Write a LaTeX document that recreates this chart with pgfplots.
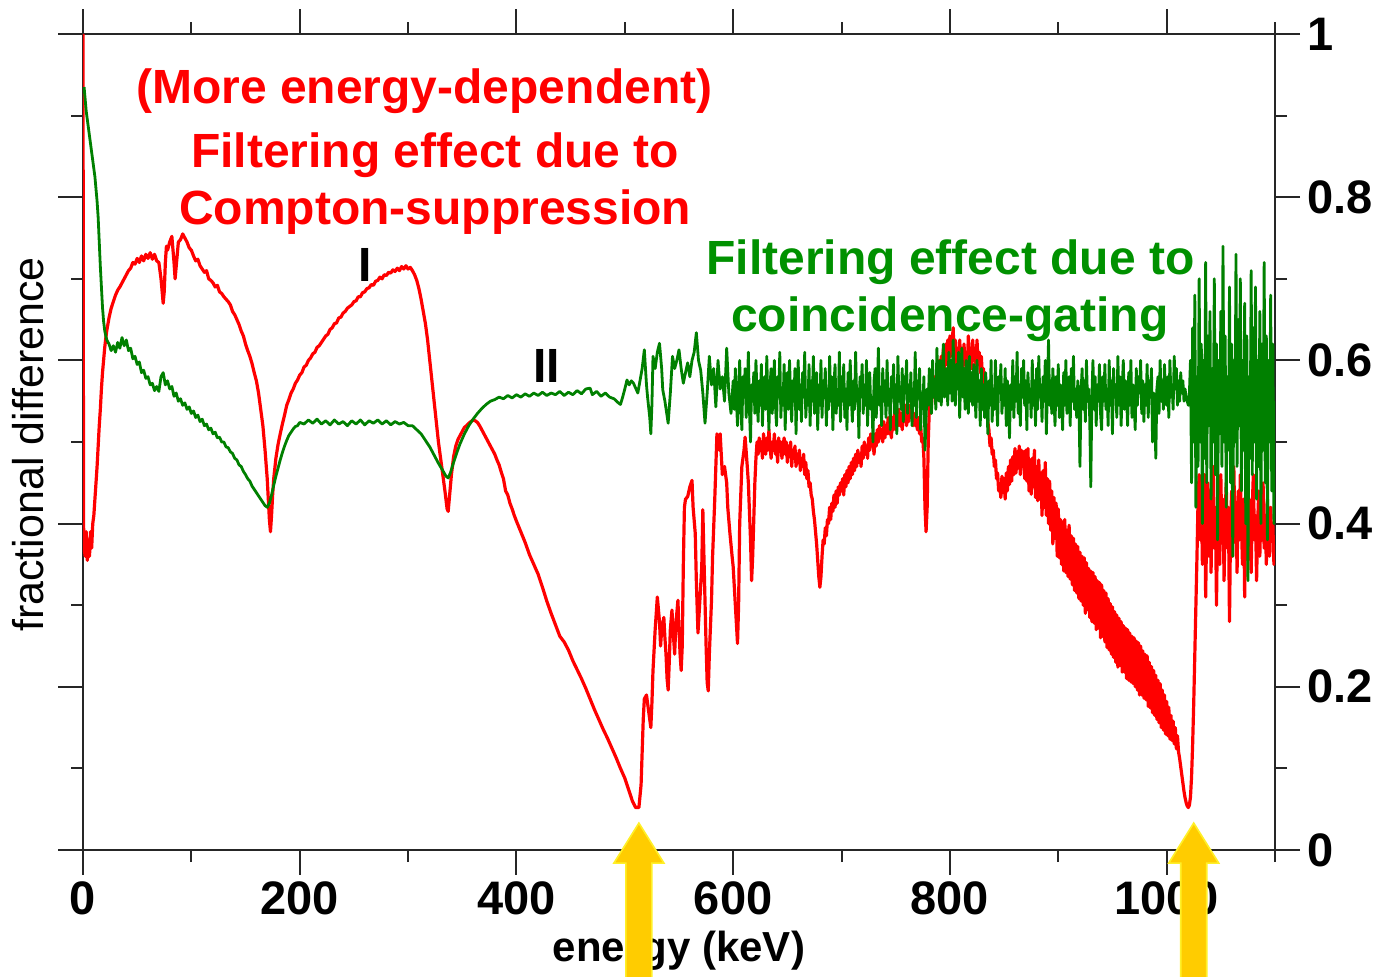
\documentclass[border=0pt]{standalone}
\usepackage{pgfplots}
\pgfplotsset{compat=1.18}
\usepackage{fontspec}
\setmainfont{Liberation Sans}
\definecolor{cred}{RGB}{255,0,0}
\definecolor{cgreen}{RGB}{0,128,0}
\definecolor{tgreen}{RGB}{0,145,0}
\definecolor{arrowfill}{RGB}{255,204,0}
\definecolor{arrowedge}{RGB}{255,240,40}
\begin{document}
\begin{tikzpicture}
\path[use as bounding box] (-41.5pt,-63pt) rectangle (650pt,425pt);
\begin{axis}[
  scale only axis, width=596pt, height=408pt,
  xmin=0, xmax=1100, ymin=0, ymax=1,
  clip mode=individual,
  axis line style={line width=1pt, black!85},
  tick style={line width=1pt, black!85},
  tick align=outside,
  major tick length=12.5pt, minor tick length=6pt,
  xtick={0,200,400,600,800,1000}, minor xtick={100,300,500,700,900,1100},
  ytick={0,0.2,0.4,0.6,0.8,1}, minor ytick={0.1,0.3,0.5,0.7,0.9},
  xtick pos=both, xticklabel pos=lower,
  ytick pos=both, yticklabel pos=right,
  scaled x ticks=false, scaled y ticks=false,
  /pgf/number format/1000 sep={},
  /pgf/number format/assume math mode=true,
  tick label style={font=\bfseries\fontsize{23.5}{24}\selectfont},
]
% red: Compton-suppression
\addplot[cred, line width=1.6pt, line join=round] coordinates {
(0,1.0)(0.5,0.40)(1,0.37)(2,0.36)(3,0.39)(4,0.355)(5,0.38)(6,0.36)(7,0.39)(8,0.37)(9,0.40)
(10,0.41)(11,0.43)(12,0.45)(13,0.47)(14,0.495)(15,0.52)(16,0.54)(17,0.565)(18,0.585)(19,0.60)
(20,0.615)(21,0.627)(22,0.637)(24,0.652)(26,0.664)(28,0.672)(30,0.68)(32,0.686)(34,0.69)(36,0.695)
(38,0.70)(40,0.705)(42,0.71)(44,0.713)(46,0.72)(48,0.718)(50,0.725)(52,0.72)(54,0.728)(56,0.722)
(58,0.73)(60,0.725)(62,0.732)(64,0.724)(66,0.73)(68,0.722)(70,0.72)(72,0.70)(74,0.67)(75,0.685)
(76,0.72)(77,0.74)(78,0.735)(80,0.745)(82,0.752)(84,0.72)(85,0.70)(86,0.715)(88,0.745)(90,0.748)
(92,0.755)(94,0.75)(96,0.745)(98,0.738)(100,0.735)(102,0.728)(104,0.722)(106,0.724)(108,0.716)(110,0.712)
(112,0.708)(114,0.71)(116,0.70)(118,0.698)(120,0.695)(122,0.69)(124,0.692)(126,0.684)(128,0.682)(130,0.678)
(132,0.675)(134,0.672)(136,0.668)(138,0.66)(140,0.656)(142,0.65)(144,0.644)(146,0.636)(148,0.63)(150,0.62)
(152,0.612)(154,0.605)(156,0.596)(158,0.585)(160,0.575)(162,0.56)(164,0.54)(166,0.52)(168,0.49)(170,0.455)
(171,0.43)(172,0.405)(173,0.39)(174,0.41)(175,0.435)(176,0.455)(178,0.48)(180,0.497)(182,0.51)(184,0.522)
(186,0.533)(188,0.545)(190,0.552)(192,0.56)(194,0.565)(196,0.572)(198,0.576)(200,0.582)(202,0.585)(204,0.592)
(206,0.594)(208,0.6)(210,0.603)(212,0.608)(214,0.61)(216,0.616)(218,0.618)(220,0.622)(222,0.626)(224,0.63)
(226,0.632)(228,0.638)(230,0.64)(232,0.645)(234,0.646)(236,0.652)(238,0.653)(240,0.658)(242,0.66)(244,0.664)
(246,0.666)(248,0.668)(250,0.672)(252,0.673)(254,0.678)(256,0.678)(258,0.683)(260,0.684)(262,0.688)(264,0.689)
(266,0.693)(268,0.692)(270,0.697)(272,0.698)(274,0.702)(276,0.70)(278,0.705)(280,0.704)(282,0.708)(284,0.707)
(286,0.711)(288,0.709)(290,0.713)(292,0.71)(294,0.715)(296,0.712)(298,0.716)(300,0.712)(302,0.714)(304,0.71)
(306,0.705)(308,0.698)(310,0.688)(312,0.675)(314,0.66)(316,0.645)(318,0.625)(320,0.6)(322,0.575)(324,0.55)
(326,0.525)(328,0.5)(330,0.48)(332,0.46)(334,0.44)(336,0.418)(337,0.415)(338,0.43)(340,0.46)(342,0.482)
(344,0.495)(346,0.503)(348,0.508)(350,0.513)(352,0.518)(354,0.52)(356,0.523)(358,0.525)(360,0.527)(362,0.526)
(364,0.524)(366,0.52)(368,0.515)(370,0.51)(372,0.505)(374,0.5)(376,0.495)(378,0.49)(380,0.485)(382,0.478)
(384,0.472)(386,0.463)(388,0.455)(390,0.44)(392,0.435)(394,0.425)(396,0.418)(398,0.41)(400,0.403)(404,0.39)
(408,0.377)(412,0.362)(416,0.35)(420,0.338)(424,0.322)(428,0.305)(432,0.29)(436,0.276)(440,0.262)(444,0.255)
(448,0.245)(452,0.232)(456,0.221)(460,0.21)(464,0.198)(468,0.185)(472,0.172)(476,0.16)(480,0.148)(484,0.137)
(488,0.125)(492,0.113)(496,0.1)(500,0.088)(504,0.072)(507,0.06)(510,0.052)(513,0.052)(515,0.08)(516,0.12)
(517,0.16)(518,0.185)(520,0.19)(521,0.18)(522,0.17)(524,0.15)(525,0.18)(526,0.22)(528,0.27)(530,0.31)
(532,0.28)(533,0.25)(534,0.27)(536,0.285)(537,0.26)(538,0.24)(539,0.21)(540,0.196)(541,0.23)(542,0.27)
(543.5,0.294)(545,0.26)(546,0.24)(547,0.275)(549,0.306)(550,0.27)(551,0.24)(552,0.22)(553,0.25)(554,0.35)
(555,0.42)(556,0.43)(558,0.433)(560,0.445)(562,0.453)(563,0.42)(565,0.388)(566,0.33)(567.5,0.266)(569,0.3)
(571,0.347)(572,0.417)(573,0.36)(575,0.25)(576,0.205)(577,0.195)(578,0.24)(580,0.306)(581,0.36)(583,0.43)
(585,0.51)(587,0.49)(588,0.51)(590,0.46)(592,0.47)(594,0.45)(595,0.42)(597,0.388)(599,0.36)(600,0.347)
(602,0.3)(604,0.253)(605,0.3)(606,0.4)(608,0.47)(610,0.49)(611,0.506)(613,0.47)(614,0.45)(616,0.38)
(617,0.33)(618,0.36)
(620,0.45)(621,0.48)(622,0.5)(623,0.485)(624,0.505)(625,0.49)(626,0.5)(627,0.48)(628,0.51)(629,0.495)
(630,0.485)(631,0.505)(632,0.49)(633,0.515)(634,0.495)(635,0.48)(636,0.5)(637,0.49)(638,0.51)(639,0.485)
(640,0.5)(641,0.475)(642,0.505)(643,0.49)(644,0.5)(645,0.48)(646,0.495)(647,0.505)(648,0.485)(649,0.5)
(650,0.475)(651,0.495)(652,0.485)(653,0.5)(654,0.47)(655,0.49)(656,0.48)(657,0.495)(658,0.47)(659,0.485)
(660,0.475)(661,0.49)(662,0.465)(663,0.48)(664,0.47)(665,0.485)(666,0.46)(667,0.475)(668,0.455)(669,0.465)
(670,0.445)(671,0.45)(672,0.435)(673,0.43)(674,0.415)(675,0.405)(676,0.39)(677,0.375)(678,0.355)(679,0.335)
(680,0.322)(681,0.335)(682,0.36)(683,0.38)(684,0.375)(685,0.395)(686,0.385)(687,0.405)(688,0.4)(689,0.42)
(690,0.405)(691,0.425)(692,0.415)(693,0.435)(694,0.42)(695,0.44)(696,0.425)(697,0.445)(698,0.435)(699,0.45)
(700,0.44)(701,0.455)(702,0.435)(703,0.46)(704,0.445)(705,0.465)(706,0.45)(707,0.47)(708,0.455)(709,0.475)
(710,0.46)(711,0.48)(712,0.465)(713,0.485)(714,0.47)(715,0.49)(716,0.475)(717,0.485)(718,0.47)(719,0.495)
(720,0.48)(721,0.5)(722,0.485)(723,0.495)(724,0.48)(725,0.505)(726,0.49)(727,0.51)(728,0.495)(729,0.5)
(730,0.485)(731,0.51)(732,0.495)(733,0.515)(734,0.5)(735,0.52)(736,0.505)(737,0.515)(738,0.5)(739,0.525)
(740,0.505)(741,0.52)(742,0.51)(743,0.53)(744,0.51)(745,0.525)(746,0.505)(747,0.53)(748,0.515)(749,0.535)
(750,0.515)(751,0.53)(752,0.52)(753,0.54)(754,0.52)(755,0.535)(756,0.515)(757,0.54)(758,0.525)(759,0.545)
(760,0.52)(761,0.54)(762,0.525)(763,0.545)(764,0.53)(765,0.54)(766,0.52)(767,0.535)(768,0.52)(769,0.53)
(770,0.515)(771,0.53)(772,0.51)(773,0.52)(774,0.5)(775,0.505)(776,0.48)(777,0.42)(778,0.39)(779,0.42)
(780,0.5)(781,0.54)(782,0.555)(783,0.545)(784,0.57)(785,0.555)(786,0.58)(787,0.565)(788,0.59)(789,0.57)
(790,0.6)(791,0.58)(792,0.605)(793,0.585)(794,0.615)(795,0.59)(796,0.62)(797,0.595)(798,0.625)(799,0.6)
(800,0.63)(801,0.605)(802,0.62)(803,0.64)(804,0.6)(805,0.625)(806,0.595)(807,0.615)(808,0.59)(809,0.625)
(810,0.6)(811,0.615)(812,0.59)(813,0.62)(814,0.595)(815,0.61)(816,0.585)(817,0.63)(818,0.6)(819,0.615)
(820,0.59)(821,0.625)(822,0.6)(823,0.615)(824,0.59)(825,0.625)(826,0.595)(827,0.61)(828,0.585)(829,0.605)
(830,0.58)(831,0.59)(832,0.565)(833,0.55)(834,0.535)(835,0.525)
(836,0.515)(837,0.495)(838,0.505)(839,0.485)(840,0.49)(841,0.47)(842,0.478)(843,0.455)(844,0.462)(845,0.44)
(846,0.448)(847,0.432)(848,0.458)(849,0.438)(850,0.455)(851,0.43)(852,0.462)(853,0.44)(854,0.47)(855,0.448)
(856,0.478)(857,0.452)(858,0.482)(859,0.46)(860,0.492)(861,0.462)(862,0.488)(863,0.468)(864,0.495)(865,0.46)
(866,0.49)(867,0.47)(868,0.488)(869,0.455)
(870,0.49)(871,0.452)(872,0.492)(873,0.44)(874,0.478)(875,0.436)(876,0.48)(877,0.445)(878,0.49)(879,0.432)
(880,0.47)(881,0.428)(882,0.478)(883,0.43)(884,0.462)(885,0.41)(886,0.465)(887,0.42)(888,0.475)(889,0.41)
(890,0.455)(891,0.4)(892,0.452)(893,0.392)(894,0.44)(895,0.375)(896,0.432)(897,0.382)(898,0.425)(899,0.36)
(900,0.418)(901,0.358)(902,0.405)(903,0.35)(904,0.402)(905,0.342)(906,0.405)(907,0.34)(908,0.392)(909,0.335)
(910,0.398)(911,0.332)(912,0.385)(913,0.325)(914,0.382)(915,0.318)(916,0.375)(917,0.315)(918,0.372)(919,0.308)
(920,0.365)(921,0.305)(922,0.36)(923,0.3)(924,0.358)(925,0.29)(926,0.352)(927,0.295)(928,0.345)(929,0.285)
(930,0.342)(931,0.28)(932,0.34)(933,0.278)(934,0.335)(935,0.27)(936,0.33)(937,0.272)(938,0.328)(939,0.26)
(940,0.325)(941,0.262)(942,0.318)(943,0.255)(944,0.315)(945,0.248)(946,0.308)(947,0.245)(948,0.302)(949,0.24)
(950,0.298)(951,0.236)(952,0.292)(953,0.23)(954,0.288)(955,0.224)(956,0.284)(957,0.226)(958,0.28)(959,0.218)
(960,0.275)(961,0.218)(962,0.272)(963,0.21)(964,0.27)(965,0.208)(966,0.266)(967,0.206)(968,0.262)(969,0.204)
(970,0.26)(971,0.2)(972,0.256)(973,0.196)(974,0.254)(975,0.19)(976,0.25)(977,0.19)(978,0.244)(979,0.186)
(980,0.24)(981,0.184)(982,0.238)(983,0.176)(984,0.23)(985,0.174)(986,0.225)(987,0.168)(988,0.22)(989,0.165)
(990,0.214)(991,0.16)(992,0.208)(993,0.156)(994,0.204)(995,0.15)(996,0.196)(997,0.147)(998,0.19)(999,0.142)
(1000,0.182)(1001,0.14)(1002,0.175)(1003,0.136)(1004,0.165)(1005,0.134)(1006,0.158)(1007,0.13)(1008,0.15)(1009,0.124)
(1010,0.14)(1011,0.12)(1012,0.112)(1013,0.102)(1014,0.092)(1015,0.082)(1016,0.072)(1017,0.064)(1018,0.058)(1019,0.054)
(1020,0.052)(1021,0.055)(1022,0.065)(1023,0.09)(1024,0.13)(1025,0.18)(1026,0.24)(1027,0.3)(1028,0.36)(1029,0.43)
(1030,0.46)(1031,0.38)(1032,0.44)(1033,0.35)(1034,0.42)(1035,0.46)(1036,0.31)(1037,0.4)(1038,0.45)(1039,0.36)
(1040,0.44)(1041,0.34)(1042,0.43)(1043,0.47)(1044,0.37)(1045,0.42)(1046,0.3)(1047,0.41)(1048,0.44)(1049,0.35)
(1050,0.46)(1051,0.38)(1052,0.43)(1053,0.33)(1054,0.41)(1055,0.45)(1056,0.37)(1057,0.42)(1058,0.28)(1059,0.4)
(1060,0.44)(1061,0.36)(1062,0.47)(1063,0.39)(1064,0.42)(1065,0.34)(1066,0.44)(1067,0.38)(1068,0.46)(1069,0.4)
(1070,0.35)(1071,0.43)(1072,0.31)(1073,0.41)(1074,0.45)(1075,0.37)(1076,0.43)(1077,0.39)(1078,0.34)(1079,0.42)
(1080,0.46)(1081,0.38)(1082,0.41)(1083,0.33)(1084,0.4)(1085,0.44)(1086,0.36)(1087,0.42)(1088,0.38)(1089,0.45)
(1090,0.37)(1091,0.41)(1092,0.35)(1093,0.43)(1094,0.39)(1095,0.36)(1096,0.42)(1097,0.38)(1098,0.4)(1099,0.35)
(1100,0.37)
};
% green: coincidence-gating
\addplot[cgreen, line width=1.4pt, line join=round] coordinates {
(1,0.935)(2,0.92)(3,0.905)(4,0.895)(5,0.885)(6,0.875)(7,0.865)(8,0.855)(9,0.845)(10,0.835)
(11,0.825)(12,0.81)(13,0.795)(14,0.775)(15,0.745)(16,0.715)(17,0.69)(18,0.665)(19,0.648)(20,0.637)
(21,0.63)(22,0.625)(24,0.62)(26,0.612)(28,0.618)(30,0.61)(32,0.622)(34,0.615)(36,0.628)(38,0.618)
(40,0.625)(42,0.612)(44,0.615)(46,0.602)(48,0.605)(50,0.595)(52,0.598)(54,0.585)(56,0.588)(58,0.578)
(60,0.58)(62,0.57)(64,0.572)(66,0.563)(68,0.568)(70,0.562)(72,0.58)(74,0.585)(76,0.57)(78,0.575)
(80,0.565)(82,0.568)(84,0.556)(86,0.56)(88,0.55)(90,0.553)(92,0.545)(94,0.548)(96,0.54)(98,0.543)
(100,0.535)(102,0.538)(104,0.53)(106,0.533)(108,0.525)(110,0.528)(112,0.52)(114,0.522)(116,0.515)(118,0.517)
(120,0.51)(122,0.512)(124,0.505)(126,0.506)(128,0.5)(130,0.5)(132,0.494)(134,0.493)(136,0.488)(138,0.486)
(140,0.48)(142,0.478)(144,0.472)(146,0.47)(148,0.464)(150,0.46)(152,0.455)(154,0.452)(156,0.446)(158,0.442)
(160,0.438)(162,0.434)(164,0.43)(166,0.426)(168,0.422)(170,0.42)(172,0.425)(174,0.435)(176,0.447)(178,0.458)
(180,0.468)(182,0.478)(184,0.487)(186,0.495)(188,0.502)(190,0.508)(192,0.512)(194,0.516)(196,0.519)(198,0.52)
(200,0.524)(204,0.522)(208,0.527)(212,0.523)(216,0.528)(220,0.522)(224,0.526)(228,0.521)(232,0.527)(236,0.522)
(240,0.525)(244,0.52)(248,0.526)(252,0.522)(256,0.527)(260,0.521)(264,0.526)(268,0.523)(272,0.527)(276,0.522)
(280,0.526)(284,0.521)(288,0.525)(292,0.522)(296,0.524)(300,0.52)(304,0.52)(308,0.515)(312,0.51)(316,0.502)
(320,0.494)(324,0.484)(328,0.474)(332,0.465)(335,0.458)(337,0.456)(339,0.462)(342,0.475)(345,0.487)(348,0.498)
(352,0.51)(356,0.52)(360,0.528)(364,0.535)(368,0.541)(372,0.546)(376,0.55)(380,0.552)(384,0.555)(388,0.553)
(392,0.557)(396,0.554)(400,0.558)(404,0.555)(408,0.559)(412,0.556)(416,0.56)(420,0.557)(424,0.561)(428,0.557)
(432,0.56)(436,0.558)(440,0.562)(444,0.557)(448,0.561)(452,0.558)(456,0.563)(460,0.559)(464,0.565)(468,0.566)
(470,0.558)(474,0.562)(478,0.556)(482,0.56)(486,0.555)(490,0.553)(494,0.548)(496,0.546)(498,0.555)(500,0.565)
(502,0.576)(504,0.57)(506,0.575)(508,0.572)(510,0.566)(512,0.56)(514,0.575)(516,0.59)(518,0.613)(520,0.57)
(521,0.555)(523,0.53)(524,0.51)(525,0.545)(526,0.605)(528,0.59)(530,0.61)(532,0.621)(534,0.59)(535,0.564)
(537,0.55)(540,0.523)(542,0.56)(544,0.605)(546,0.59)(548,0.6)(550,0.613)(552,0.59)(554,0.572)(556,0.585)
(558,0.597)(560,0.58)(562,0.6)(564,0.61)(566,0.634)(568,0.6)(570,0.588)(572,0.56)(574,0.523)(576,0.56)
(578,0.605)(580,0.57)(582,0.59)(584,0.543)(586,0.6)(588,0.565)(590,0.58)(592,0.55)(594,0.615)(596,0.56)
(598,0.535)
(600,0.575)(601,0.54)(602,0.59)(603,0.55)(604,0.52)(605,0.565)(606,0.6)(607,0.545)(608,0.515)(609,0.58)
(610,0.555)(611,0.59)(612,0.53)(613,0.565)(614,0.61)(615,0.54)(616,0.5)(617,0.57)(618,0.55)(619,0.585)
(620,0.535)(621,0.6)(622,0.56)(623,0.525)(624,0.575)(625,0.545)(626,0.595)(627,0.52)(628,0.565)(629,0.58)
(630,0.54)(631,0.605)(632,0.55)(633,0.515)(634,0.57)(635,0.59)(636,0.535)(637,0.56)(638,0.6)(639,0.545)
(640,0.52)(641,0.58)(642,0.555)(643,0.61)(644,0.53)(645,0.565)(646,0.545)(647,0.595)(648,0.515)(649,0.57)
(650,0.585)(651,0.54)(652,0.6)(653,0.555)(654,0.525)(655,0.575)(656,0.55)(657,0.59)(658,0.51)(659,0.565)
(660,0.6)(661,0.54)(662,0.57)(663,0.525)(664,0.585)(665,0.555)(666,0.61)(667,0.53)(668,0.56)(669,0.545)
(670,0.595)(671,0.52)(672,0.575)(673,0.55)(674,0.605)(675,0.535)(676,0.565)(677,0.585)(678,0.515)(679,0.57)
(680,0.545)(681,0.6)(682,0.53)(683,0.575)(684,0.555)(685,0.59)(686,0.52)(687,0.565)(688,0.54)(689,0.605)
(690,0.55)(691,0.58)(692,0.515)(693,0.57)(694,0.595)(695,0.535)(696,0.56)(697,0.545)(698,0.61)(699,0.525)
(700,0.58)(701,0.55)(702,0.595)(703,0.53)(704,0.565)(705,0.515)(706,0.585)(707,0.545)(708,0.6)(709,0.555)
(710,0.525)(711,0.575)(712,0.54)(713,0.61)(714,0.55)(715,0.565)(716,0.505)(717,0.58)(718,0.56)(719,0.595)
(720,0.535)(721,0.57)(722,0.545)(723,0.6)(724,0.52)(725,0.565)(726,0.585)(727,0.54)(728,0.555)(729,0.5)
(730,0.575)(731,0.59)(732,0.53)(733,0.565)(734,0.615)(735,0.545)(736,0.56)(737,0.52)(738,0.59)(739,0.55)
(740,0.575)(741,0.53)(742,0.6)(743,0.545)(744,0.565)(745,0.515)(746,0.58)(747,0.555)(748,0.595)(749,0.535)
(750,0.57)(751,0.51)(752,0.605)(753,0.55)(754,0.565)(755,0.54)(756,0.59)(757,0.525)(758,0.58)(759,0.56)
(760,0.6)(761,0.535)(762,0.57)(763,0.55)(764,0.585)(765,0.52)(766,0.565)(767,0.545)(768,0.61)(769,0.53)
(770,0.575)(771,0.555)(772,0.59)(773,0.515)(774,0.56)(775,0.545)(776,0.58)(777,0.49)(778,0.53)(779,0.565)
(780,0.545)(781,0.59)(782,0.56)(783,0.535)(784,0.6)(785,0.555)(786,0.575)(787,0.54)(788,0.615)(789,0.565)
(790,0.55)(791,0.6)(792,0.545)(793,0.58)(794,0.62)(795,0.555)(796,0.57)(797,0.59)(798,0.545)(799,0.61)
(800,0.56)(801,0.6)(802,0.55)(803,0.625)(804,0.57)(805,0.545)(806,0.595)(807,0.565)(808,0.61)(809,0.53)
(810,0.58)(811,0.615)(812,0.555)(813,0.59)(814,0.54)(815,0.6)(816,0.565)(817,0.535)(818,0.605)(819,0.55)
(820,0.585)(821,0.545)(822,0.595)(823,0.56)(824,0.53)(825,0.6)(826,0.55)(827,0.575)(828,0.52)(829,0.59)
(830,0.54)(831,0.57)(832,0.53)(833,0.585)(834,0.555)(835,0.51)(836,0.575)(837,0.545)(838,0.6)(839,0.525)
(840,0.565)(841,0.54)(842,0.6)(843,0.55)(844,0.52)(845,0.58)(846,0.56)(847,0.595)(848,0.535)(849,0.57)
(850,0.545)(851,0.59)(852,0.52)(853,0.575)(854,0.555)(855,0.505)(856,0.57)(857,0.54)(858,0.6)(859,0.53)
(860,0.58)(861,0.55)(862,0.61)(863,0.535)(864,0.57)(865,0.52)(866,0.59)(867,0.555)(868,0.6)(869,0.545)
(870,0.575)(871,0.515)(872,0.585)(873,0.55)(874,0.565)(875,0.53)(876,0.6)(877,0.545)(878,0.575)(879,0.52)
(880,0.59)(881,0.54)(882,0.605)(883,0.555)(884,0.57)(885,0.525)(886,0.58)(887,0.55)(888,0.6)(889,0.51)
(890,0.565)(891,0.625)(892,0.545)(893,0.575)(894,0.535)(895,0.59)(896,0.555)(897,0.52)(898,0.58)(899,0.545)
(900,0.595)(901,0.53)(902,0.57)(903,0.555)(904,0.515)(905,0.585)(906,0.545)(907,0.6)(908,0.535)(909,0.565)
(910,0.58)(911,0.52)(912,0.59)(913,0.55)(914,0.605)(915,0.54)(916,0.565)(917,0.53)(918,0.575)(919,0.555)
(920,0.47)(921,0.56)(922,0.59)(923,0.54)(924,0.575)(925,0.525)(926,0.6)(927,0.55)(928,0.565)(929,0.53)
(930,0.445)(931,0.555)(932,0.6)(933,0.54)(934,0.58)(935,0.52)(936,0.57)(937,0.55)(938,0.595)(939,0.535)
(940,0.515)(941,0.58)(942,0.55)(943,0.595)(944,0.54)(945,0.565)(946,0.52)(947,0.6)(948,0.545)(949,0.575)
(950,0.51)(951,0.59)(952,0.555)(953,0.57)(954,0.53)(955,0.605)(956,0.545)(957,0.58)(958,0.52)(959,0.565)
(960,0.6)(961,0.54)(962,0.575)(963,0.555)(964,0.52)(965,0.585)(966,0.545)(967,0.6)(968,0.53)(969,0.57)
(970,0.55)(971,0.515)(972,0.59)(973,0.545)(974,0.58)(975,0.56)(976,0.6)(977,0.535)(978,0.575)(979,0.525)
(980,0.57)(981,0.545)(982,0.595)(983,0.53)(984,0.575)(985,0.555)(986,0.59)(987,0.5)(988,0.56)(989,0.54)
(990,0.48)(991,0.565)(992,0.58)(993,0.535)(994,0.6)(995,0.55)(996,0.575)(997,0.54)(998,0.595)(999,0.56)
(1000,0.545)(1001,0.58)(1002,0.53)(1003,0.6)(1004,0.555)(1005,0.57)(1006,0.54)(1007,0.605)(1008,0.565)(1009,0.59)
(1010,0.545)(1011,0.575)(1012,0.55)(1013,0.585)(1014,0.56)(1015,0.575)(1016,0.55)(1017,0.565)(1018,0.555)(1019,0.55)
(1020,0.545)(1021,0.56)
(1022,0.6)(1023,0.45)(1024,0.64)(1025,0.5)(1026,0.68)(1027,0.42)(1028,0.58)(1029,0.47)(1030,0.7)(1031,0.5)
(1032,0.62)(1033,0.4)(1034,0.6)(1035,0.48)(1036,0.72)(1037,0.45)(1038,0.63)(1039,0.52)(1040,0.66)(1041,0.43)
(1042,0.59)(1043,0.5)(1044,0.7)(1045,0.46)(1046,0.62)(1047,0.38)(1048,0.6)(1049,0.51)(1050,0.66)(1051,0.47)
(1052,0.74)(1053,0.5)(1054,0.63)(1055,0.42)(1056,0.58)(1057,0.49)(1058,0.69)(1059,0.45)(1060,0.62)(1061,0.36)
(1062,0.6)(1063,0.5)(1064,0.73)(1065,0.47)(1066,0.65)(1067,0.52)(1068,0.7)(1069,0.44)(1070,0.6)(1071,0.49)
(1072,0.67)(1073,0.4)(1074,0.63)(1075,0.33)(1076,0.58)(1077,0.48)(1078,0.71)(1079,0.46)(1080,0.64)(1081,0.5)
(1082,0.69)(1083,0.43)(1084,0.6)(1085,0.47)(1086,0.66)(1087,0.4)(1088,0.62)(1089,0.49)(1090,0.72)(1091,0.45)
(1092,0.63)(1093,0.38)(1094,0.6)(1095,0.5)(1096,0.68)(1097,0.44)(1098,0.62)(1099,0.4)(1100,0.55)
};
\node[cred, font=\bfseries\fontsize{24}{24}\selectfont, anchor=base] at (axis cs:315,0.9154) {(More energy-dependent)};
\node[cred, font=\bfseries\fontsize{24}{24}\selectfont, anchor=base] at (axis cs:325,0.836) {Filtering effect due to};
\node[cred, font=\bfseries\fontsize{24}{24}\selectfont, anchor=base] at (axis cs:325,0.766) {Compton-suppression};
\node[tgreen, font=\bfseries\fontsize{24}{24}\selectfont, anchor=base] at (axis cs:800.5,0.705) {Filtering effect due to};
\node[tgreen, font=\bfseries\fontsize{24}{24}\selectfont, anchor=base] at (axis cs:800,0.636) {coincidence-gating};
\node[black, font=\bfseries\fontsize{24}{24}\selectfont, anchor=base] at (axis cs:260,0.697) {I};
\node[black, font=\bfseries\fontsize{24}{24}\selectfont, anchor=base] at (axis cs:428,0.5735) {II};
\node[rotate=90, anchor=base, font=\fontsize{21.5}{21.5}\selectfont] at (axis description cs:-0.0335,0.497) {fractional difference};
\node[anchor=base, font=\bfseries\fontsize{21}{21}\selectfont] at (axis description cs:0.5,-0.137) {energy (keV)};
\coordinate (A1) at (axis cs:513,0.033);
\coordinate (A2) at (axis cs:1025,0.033);
\end{axis}
\foreach \A in {A1,A2}{
  \draw[fill=arrowfill, draw=arrowedge, line width=0.8pt, line join=miter]
    (\A) -- ++(-12.5pt,-20pt) -- ++(6pt,0pt) -- ++(0pt,-60pt) -- ++(13pt,0pt)
    -- ++(0pt,60pt) -- ++(6pt,0pt) -- cycle;
}
\end{tikzpicture}
\end{document}
